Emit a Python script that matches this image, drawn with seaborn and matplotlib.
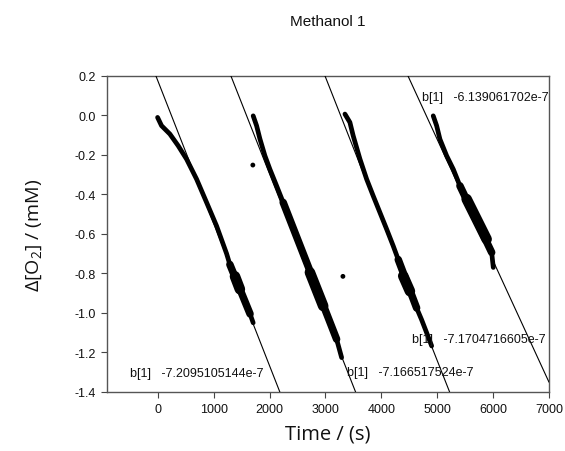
import numpy as np
import pandas as pd
import matplotlib
matplotlib.use("Agg")
import matplotlib.pyplot as plt
import seaborn as sns

# ---------------- data ----------------
title = "Methanol 1"
x_label = "Time / (s)"
y_label = "Δ[O$_2$] / (mM)"
x_ticks = [0, 1000, 2000, 3000, 4000, 5000, 6000, 7000]
y_ticks = [-1.4, -1.2, -1.0, -0.8, -0.6, -0.4, -0.2, 0.0, 0.2]
x_range = [-910, 7000]
y_range = [-1.4, 0.2]

# measured traces (centre of the dense point band); band = density level 0..2
seg1_x = [-5, 66, 215, 363, 514, 693, 872, 1051, 1230, 1289, 1380, 1468, 1588, 1650, 1706]
seg1_y = [-0.011, -0.053, -0.095, -0.154, -0.222, -0.323, -0.441, -0.560, -0.700, -0.755, -0.815, -0.880, -0.965, -1.005, -1.050]
seg1_band = [0, 0, 0, 0, 0, 0, 0, 0, 0, 1, 2, 2, 1, 1, 0]

seg2_x = [1706, 1767, 1826, 1916, 2005, 2125, 2243, 2363, 2483, 2601, 2721, 2841, 2959, 3079, 3199, 3289]
seg2_y = [-0.003, -0.053, -0.119, -0.205, -0.273, -0.357, -0.441, -0.527, -0.610, -0.711, -0.795, -0.880, -0.965, -1.049, -1.133, -1.226]
seg2_band = [0, 0, 0, 0, 0, 0, 1, 1, 1, 1, 2, 2, 2, 1, 1, 0]

seg3_x = [3348, 3437, 3496, 3616, 3736, 3854, 3974, 4094, 4212, 4302, 4391, 4511, 4631, 4721, 4810, 4900]
seg3_y = [0.006, -0.036, -0.104, -0.221, -0.323, -0.408, -0.492, -0.576, -0.661, -0.730, -0.813, -0.890, -0.975, -1.035, -1.100, -1.167]
seg3_band = [0, 0, 0, 0, 0, 0, 0, 0, 0, 1, 2, 2, 1, 0, 0, 0]

seg4_x = [4928, 4989, 5048, 5168, 5287, 5406, 5526, 5645, 5764, 5884, 5974, 6003]
seg4_y = [-0.003, -0.053, -0.121, -0.205, -0.273, -0.357, -0.424, -0.491, -0.560, -0.627, -0.694, -0.770]
seg4_band = [0, 0, 0, 0, 0, 1, 2, 2, 2, 2, 1, 0]

outlier_x = [1700, 3312]
outlier_y = [-0.252, -0.815]

# linear fits (slope in mM/s, intercept in mM)
fit_slope = [-7.2095105144e-4, -7.166517524e-4, -7.1704716605e-4, -6.139061702e-4]
fit_intercept = [0.174, 1.136, 2.344, 2.947]
fit_labels = ["b[1]   -7.2095105144e-7", "b[1]   -7.166517524e-7",
              "b[1]   -7.1704716605e-7", "b[1]   -6.139061702e-7"]
label_x = [-500, 3380, 4545, 4725]
label_y = [-1.305, -1.300, -1.133, 0.092]

# ---------------- figure ----------------
sns.set_theme(style="ticks")
plt.rcParams["font.family"] = ["Liberation Sans", "DejaVu Sans"]
plt.rcParams["mathtext.default"] = "regular"

fig = plt.figure(figsize=(5.65, 4.52), dpi=100)
ax = fig.add_axes([107 / 565, 1 - 393 / 452, (549 - 107) / 565, (393 - 76.7) / 452])

segs = []
for i, (sx, sy, sb) in enumerate([(seg1_x, seg1_y, seg1_band), (seg2_x, seg2_y, seg2_band),
                                   (seg3_x, seg3_y, seg3_band), (seg4_x, seg4_y, seg4_band)]):
    segs.append(pd.DataFrame({"x": sx, "y": sy, "band": sb, "seg": i}))
df = pd.concat(segs, ignore_index=True)

# fit lines
fit_df = pd.DataFrame({
    "x": [x_range[0], x_range[1]] * len(fit_slope),
    "fit": np.repeat(np.arange(len(fit_slope)), 2),
})
fit_df["y"] = [fit_intercept[k] + fit_slope[k] * xv for xv, k in zip(fit_df["x"], fit_df["fit"])]
sns.lineplot(data=fit_df, x="x", y="y", units="fit", estimator=None, sort=False,
             color="black", linewidth=0.8, ax=ax, zorder=3)

# base trace through every measured point
sns.lineplot(data=df, x="x", y="y", units="seg", estimator=None, sort=False,
             color="black", linewidth=3.4, ax=ax, zorder=4,
             solid_capstyle="round", solid_joinstyle="round")

# dense zones: straight strokes between the first and last point of each dense run
widths = {1: 5.4, 2: 7.6}
for level, lw in widths.items():
    sub = df[df["band"] >= level]
    idx = sub.index.to_series()
    new_run = (idx.diff() != 1) | (sub["seg"].diff() != 0)
    sub = sub.assign(run=new_run.cumsum().values)
    ends = sub.groupby("run").nth([0, -1])
    sns.lineplot(data=ends, x="x", y="y", units="run", estimator=None, sort=False,
                 color="black", linewidth=lw, ax=ax, zorder=4,
                 solid_capstyle="round", solid_joinstyle="round")
sns.scatterplot(x=outlier_x, y=outlier_y, color="black", s=12, edgecolor="none", ax=ax, zorder=5)

for tx, ty, t in zip(label_x, label_y, fit_labels):
    ax.text(tx, ty, t, fontsize=9, va="center", ha="left", color="#111111", zorder=6)

ax.set_xlim(*x_range)
ax.set_ylim(*y_range)
ax.set_xticks(x_ticks)
ax.set_xticklabels([str(v) for v in x_ticks])
ax.set_yticks(y_ticks)
ax.set_yticklabels([f"{v:.1f}" for v in y_ticks])
ax.tick_params(axis="both", direction="out", length=4, width=0.8, colors="#444444",
               labelsize=9, labelcolor="#111111", pad=4)
for sp in ax.spines.values():
    sp.set_visible(True)
    sp.set_color("#555555")
    sp.set_linewidth(1.0)

ax.set_xlabel(x_label, fontsize=14.5, family=["Open Sans", "DejaVu Sans"], labelpad=6, color="#111111")
ax.set_ylabel(y_label, fontsize=14, family=["Open Sans", "DejaVu Sans"], labelpad=22, color="#111111")
fig.text(328 / 565, 1 - 22 / 452, title, ha="center", va="center", fontsize=11, color="#111111")

fig.savefig("out.png", dpi=100)
